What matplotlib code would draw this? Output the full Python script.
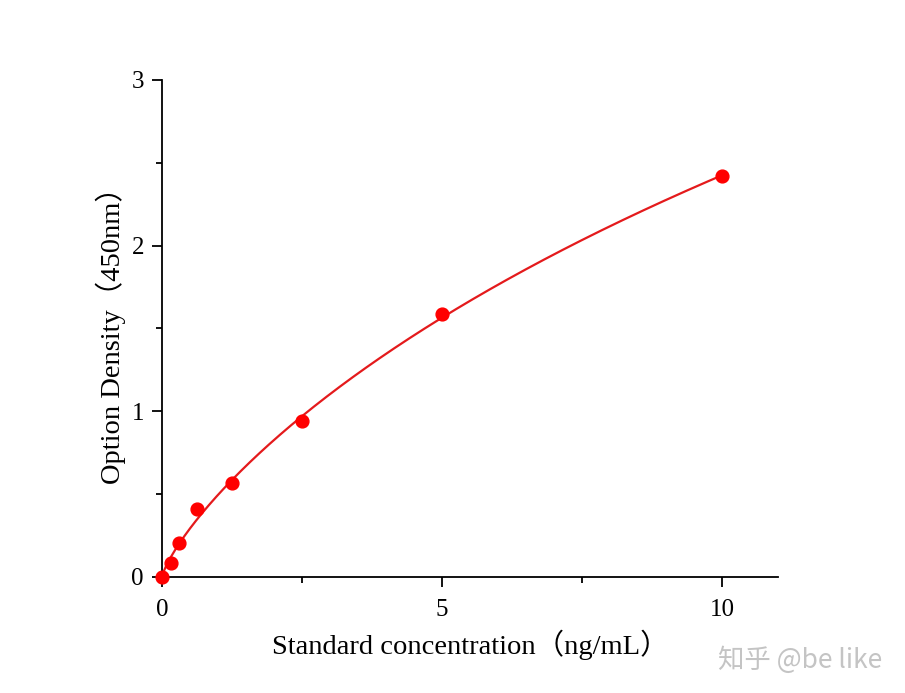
import numpy as np
import matplotlib
matplotlib.use("Agg")
import matplotlib.pyplot as plt
from matplotlib.ticker import MultipleLocator

plt.rcParams["font.family"] = ["Liberation Serif", "Noto Sans CJK SC"]

# standard curve data
conc = [0, 0.156, 0.3125, 0.625, 1.25, 2.5, 5, 10]
od = [0.0, 0.084, 0.205, 0.41, 0.567, 0.94, 1.587, 2.42]

# 4-parameter logistic fit (bottom fixed at 0), crude grid search
x = np.array(conc)
y = np.array(od)
best = None
for b in np.linspace(0.5, 1.3, 81):
    for c in np.logspace(0, 3, 200):
        g = x**b / (c**b + x**b)
        d = (g @ y) / (g @ g)
        err = np.sum((d * g - y) ** 2)
        if best is None or err < best[0]:
            best = (err, b, c, d)
_, b, c, d = best
xs = np.linspace(0, 10, 300)
ys = d * xs**b / (c**b + xs**b)

fig = plt.figure(figsize=(9.05, 6.93), dpi=100)
ax = fig.add_axes([0.179, 0.1674, 0.6807, 0.7172])

ax.plot(xs, ys, color="#e41a1c", lw=1.6, zorder=2)
ax.scatter(conc, od, s=85, color="#ff0000", zorder=3, clip_on=False)

ax.set_xlim(0, 11)
ax.set_ylim(0, 3)
ax.xaxis.set_major_locator(MultipleLocator(5))
ax.xaxis.set_minor_locator(MultipleLocator(2.5))
ax.yaxis.set_major_locator(MultipleLocator(1))
ax.yaxis.set_minor_locator(MultipleLocator(0.5))
ax.tick_params(which="major", direction="out", length=7, width=1.3, labelsize=18)
ax.tick_params(axis="x", which="major", pad=9)
ax.tick_params(axis="y", which="major", pad=6)
ax.tick_params(which="minor", direction="out", length=4, width=1.3)

for s in ["top", "right"]:
    ax.spines[s].set_visible(False)
for s in ["left", "bottom"]:
    ax.spines[s].set_linewidth(1.3)

ax.set_xlabel("Standard concentration（ng/mL）", fontsize=20.5, labelpad=6)
ax.set_ylabel("Option Density（450nm）", fontsize=20.5, labelpad=4)

fig.text(0.975, 0.028, "知乎 @be like", fontsize=19, color="#c4c4c4",
         ha="right", va="bottom", family=["Noto Sans CJK SC", "DejaVu Sans"])

fig.savefig("out.png", dpi=100)
